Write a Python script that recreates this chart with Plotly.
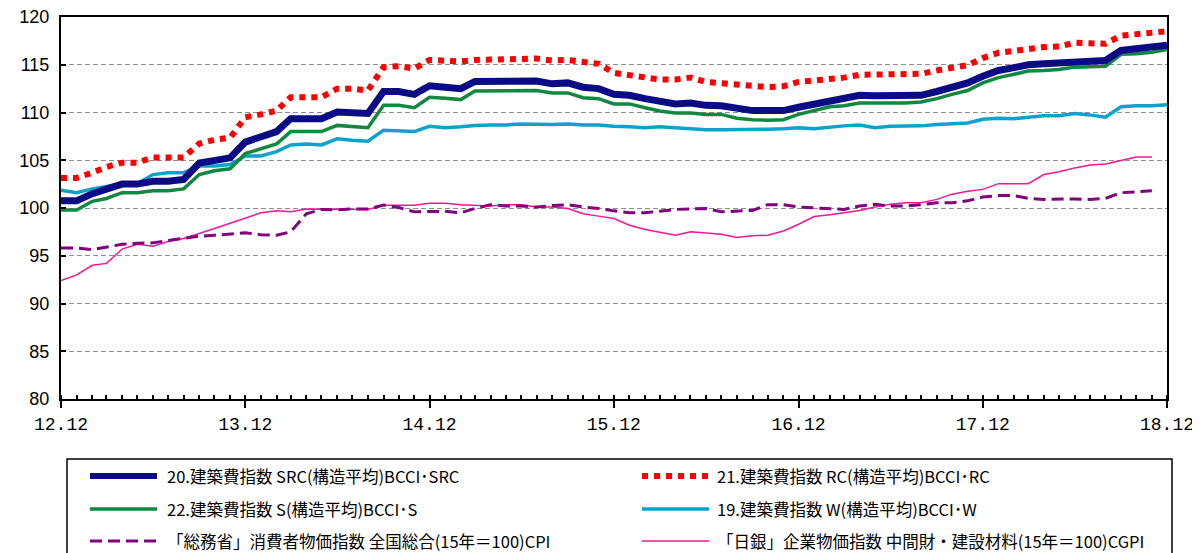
import plotly.graph_objects as go
import pandas as pd

# ---- data (monthly, 2012-12 .. 2018-12) ----
months = pd.date_range("2012-12-01", periods=73, freq="MS")
months_short = months[:72]  # CPI / CGPI end at 2018-11

tick_dates = ["2012-12-01", "2013-12-01", "2014-12-01", "2015-12-01",
              "2016-12-01", "2017-12-01", "2018-12-01"]
tick_labels = ["12.12", "13.12", "14.12", "15.12", "16.12", "17.12", "18.12"]

src = [100.75, 100.75, 101.5, 102.0, 102.5, 102.5, 102.8, 102.8, 103.0, 104.7,
       105.0, 105.25, 106.9, 107.5, 108.0, 109.35, 109.35, 109.35, 110.05, 110.0,
       109.9, 112.2, 112.2, 111.9, 112.8, 112.65, 112.5, 113.25, 113.25, 113.3,
       113.3, 113.3, 113.0, 113.1, 112.65, 112.5, 111.9, 111.8, 111.45, 111.1,
       110.9, 111.0, 110.75, 110.7, 110.4, 110.2, 110.2, 110.2, 110.55, 110.9,
       111.25, 111.4, 111.8, 111.75, 111.75, 111.7, 111.8, 112.2, 112.65, 113.1,
       113.8, 114.4, 114.7, 115.0, 115.1, 115.2, 115.4, 115.45, 115.45, 116.5,
       116.65, 116.8, 117.05]

rc = [103.15, 103.15, 103.7, 104.3, 104.75, 104.75, 105.3, 105.3, 105.3, 106.75,
      107.15, 107.35, 109.5, 109.8, 110.2, 111.6, 111.6, 111.6, 112.5, 112.5,
      112.3, 114.75, 114.85, 114.6, 115.5, 115.35, 115.35, 115.5, 115.55, 115.6,
      115.65, 115.65, 115.45, 115.5, 115.3, 115.1, 114.15, 113.95, 113.65, 113.45,
      113.45, 113.65, 113.2, 113.1, 112.95, 112.75, 112.65, 112.75, 113.2, 113.35,
      113.45, 113.65, 113.95, 113.95, 113.95, 113.95, 114.05, 114.4, 114.65, 114.95,
      115.7, 116.25, 116.45, 116.7, 116.85, 116.9, 117.3, 117.25, 117.2, 118.05,
      118.15, 118.25, 118.5]

s = [99.8, 99.8, 100.7, 101.0, 101.6, 101.6, 101.8, 101.8, 102.0, 103.5,
     103.9, 104.1, 105.7, 106.2, 106.7, 108.0, 108.0, 108.0, 108.65, 108.5,
     108.4, 110.75, 110.75, 110.5, 111.6, 111.5, 111.35, 112.25, 112.25, 112.3,
     112.3, 112.3, 112.05, 112.05, 111.55, 111.45, 110.9, 110.9, 110.5, 110.15,
     109.95, 109.95, 109.8, 109.8, 109.4, 109.25, 109.2, 109.25, 109.8, 110.2,
     110.6, 110.7, 111.0, 111.0, 111.0, 111.0, 111.1, 111.45, 111.9, 112.3,
     113.1, 113.65, 114.0, 114.35, 114.4, 114.5, 114.75, 114.8, 114.85, 116.1,
     116.15, 116.3, 116.6]

w = [101.85, 101.6, 102.0, 102.3, 102.55, 102.55, 103.5, 103.7, 103.7, 104.4,
     104.4, 104.55, 105.45, 105.45, 105.9, 106.6, 106.7, 106.6, 107.25, 107.1,
     107.0, 108.15, 108.05, 108.0, 108.55, 108.4, 108.5, 108.65, 108.7, 108.7,
     108.8, 108.75, 108.75, 108.8, 108.7, 108.7, 108.55, 108.5, 108.4, 108.5,
     108.4, 108.3, 108.2, 108.2, 108.2, 108.2, 108.25, 108.3, 108.4, 108.3,
     108.5, 108.6, 108.7, 108.4, 108.55, 108.55, 108.6, 108.75, 108.8, 108.9,
     109.3, 109.4, 109.35, 109.5, 109.65, 109.65, 109.9, 109.75, 109.5, 110.6,
     110.7, 110.7, 110.8]

cpi = [95.8, 95.8, 95.65, 95.9, 96.2, 96.3, 96.35, 96.6, 96.8, 97.05,
       97.15, 97.3, 97.4, 97.2, 97.15, 97.5, 99.4, 99.85, 99.8, 99.9,
       99.9, 100.3, 100.05, 99.6, 99.65, 99.65, 99.5, 99.95, 100.35, 100.2,
       100.2, 100.1, 100.25, 100.35, 100.1, 99.95, 99.7, 99.5, 99.5, 99.7,
       99.85, 99.9, 99.95, 99.6, 99.65, 99.75, 100.35, 100.35, 100.1, 100.0,
       99.9, 99.85, 100.2, 100.4, 100.2, 100.2, 100.35, 100.55, 100.55, 100.75,
       101.15, 101.3, 101.3, 101.0, 100.9, 100.95, 100.95, 100.9, 101.0, 101.6,
       101.7, 101.8]

cgpi = [92.4, 93.0, 94.0, 94.2, 95.7, 96.2, 96.0, 96.5, 96.8, 97.3,
        97.85, 98.4, 98.95, 99.5, 99.7, 99.6, 99.9, 99.9, 99.9, 99.85,
        99.85, 100.3, 100.3, 100.3, 100.5, 100.5, 100.35, 100.25, 100.2, 100.35,
        100.35, 100.1, 100.1, 99.95, 99.4, 99.15, 98.9, 98.2, 97.75, 97.45,
        97.15, 97.5, 97.4, 97.25, 96.9, 97.1, 97.15, 97.6, 98.3, 99.1,
        99.3, 99.5, 99.75, 100.1, 100.4, 100.55, 100.55, 100.9, 101.45, 101.75,
        101.95, 102.55, 102.55, 102.55, 103.5, 103.8, 104.2, 104.5, 104.6, 105.0,
        105.35, 105.35]

names = ["20.建築費指数 SRC(構造平均)BCCI･SRC",
         "21.建築費指数 RC(構造平均)BCCI･RC",
         "22.建築費指数 S(構造平均)BCCI･S",
         "19.建築費指数 W(構造平均)BCCI･W",
         "「総務省」消費者物価指数 全国総合(15年＝100)CPI",
         "「日銀」企業物価指数 中間財・建設材料(15年＝100)CGPI"]

# ---- styles ----
styles = {
    "src": dict(color="#0B0B86", width=7, dash="solid"),
    "rc": dict(color="#FF0000", width=6, dash="6px,6px"),
    "s": dict(color="#11873F", width=3.5, dash="solid"),
    "w": dict(color="#0AA3CC", width=3.5, dash="solid"),
    "cpi": dict(color="#800080", width=3, dash="12px,6px"),
    "cgpi": dict(color="#FF1493", width=1.5, dash="solid"),
}

fig = go.Figure()
series = [
    ("cgpi", months_short, cgpi, names[5]),
    ("cpi", months_short, cpi, names[4]),
    ("w", months, w, names[3]),
    ("s", months, s, names[2]),
    ("src", months, src, names[0]),
    ("rc", months, rc, names[1]),
]
for key, xs, ys, nm in series:
    st = styles[key]
    fig.add_trace(go.Scatter(x=xs, y=ys, mode="lines", name=nm,
                             line=dict(color=st["color"], width=st["width"], dash=st["dash"]),
                             showlegend=False))

# ---- layout geometry (page pixels; page body has an 8px default margin) ----
OFF = 8
W_, H_ = 1200 - OFF, 553 - OFF
plot_l, plot_r, plot_t, plot_b = 61 - OFF, 1167 - OFF, 17 - OFF, 399 - OFF
ml, mr, mt, mb = plot_l, W_ - plot_r, plot_t, H_ - plot_b
pw, ph = plot_r - plot_l, plot_b - plot_t

def px_x(p):
    return (p - OFF - plot_l) / pw

def px_y(p):
    return (plot_b - (p - OFF)) / ph

shapes = []
annotations = []
# legend frame
shapes.append(dict(type="rect", xref="paper", yref="paper",
                   x0=px_x(67), x1=px_x(1172), y0=px_y(459), y1=px_y(575),
                   line=dict(color="black", width=1.5), fillcolor="white", layer="above"))
legend_order = ["src", "rc", "s", "w", "cpi", "cgpi"]
col_line_x = [(90, 157), (642, 709)]
col_text_x = [165, 715]
row_y = [476, 509, 541]
for k, key in enumerate(legend_order):
    r, c = divmod(k, 2)
    st = styles[key]
    x0, x1 = col_line_x[c]
    shapes.append(dict(type="line", xref="paper", yref="paper",
                       x0=px_x(x0), x1=px_x(x1), y0=px_y(row_y[r]), y1=px_y(row_y[r]),
                       line=dict(color=st["color"], width=min(st["width"], 6), dash=st["dash"]),
                       layer="above"))
    annotations.append(dict(xref="paper", yref="paper", x=px_x(col_text_x[c]), y=px_y(row_y[r]),
                            text=names[k], showarrow=False, xanchor="left", yanchor="middle",
                            font=dict(family="Noto Sans CJK JP", size=16.5, color="black")))

fig.update_layout(
    width=W_, height=H_,
    margin=dict(l=ml, r=mr, t=mt, b=mb, autoexpand=False),
    paper_bgcolor="white", plot_bgcolor="white",
    showlegend=False,
    shapes=shapes, annotations=annotations,
    xaxis=dict(
        range=["2012-12-01", "2018-12-01"], type="date", automargin=False,
        tickvals=tick_dates, ticktext=tick_labels, ticklabeloverflow="allow",
        ticks="outside", ticklen=7, tickwidth=2, tickcolor="black",
        showline=True, linecolor="black", linewidth=2, mirror=True,
        showgrid=False, zeroline=False,
        tickfont=dict(family="Liberation Mono", size=18, color="black"),
        minor=dict(dtick="M1", ticks="inside", ticklen=4, tickwidth=1.5,
                   tickcolor="black", showgrid=False),
    ),
    yaxis=dict(
        range=[80, 120], dtick=5, tick0=80, automargin=False,
        ticklabeloverflow="allow",
        ticks="inside", ticklen=5, tickwidth=1.5, tickcolor="black",
        showline=True, linecolor="black", linewidth=2, mirror=True,
        showgrid=True, gridcolor="#8f8f8f", gridwidth=1, griddash="5px,3px",
        zeroline=False,
        tickfont=dict(family="Liberation Sans", size=18, color="black"),
        ticklabelstandoff=6,
    ),
)

fig.write_html("out.html")
